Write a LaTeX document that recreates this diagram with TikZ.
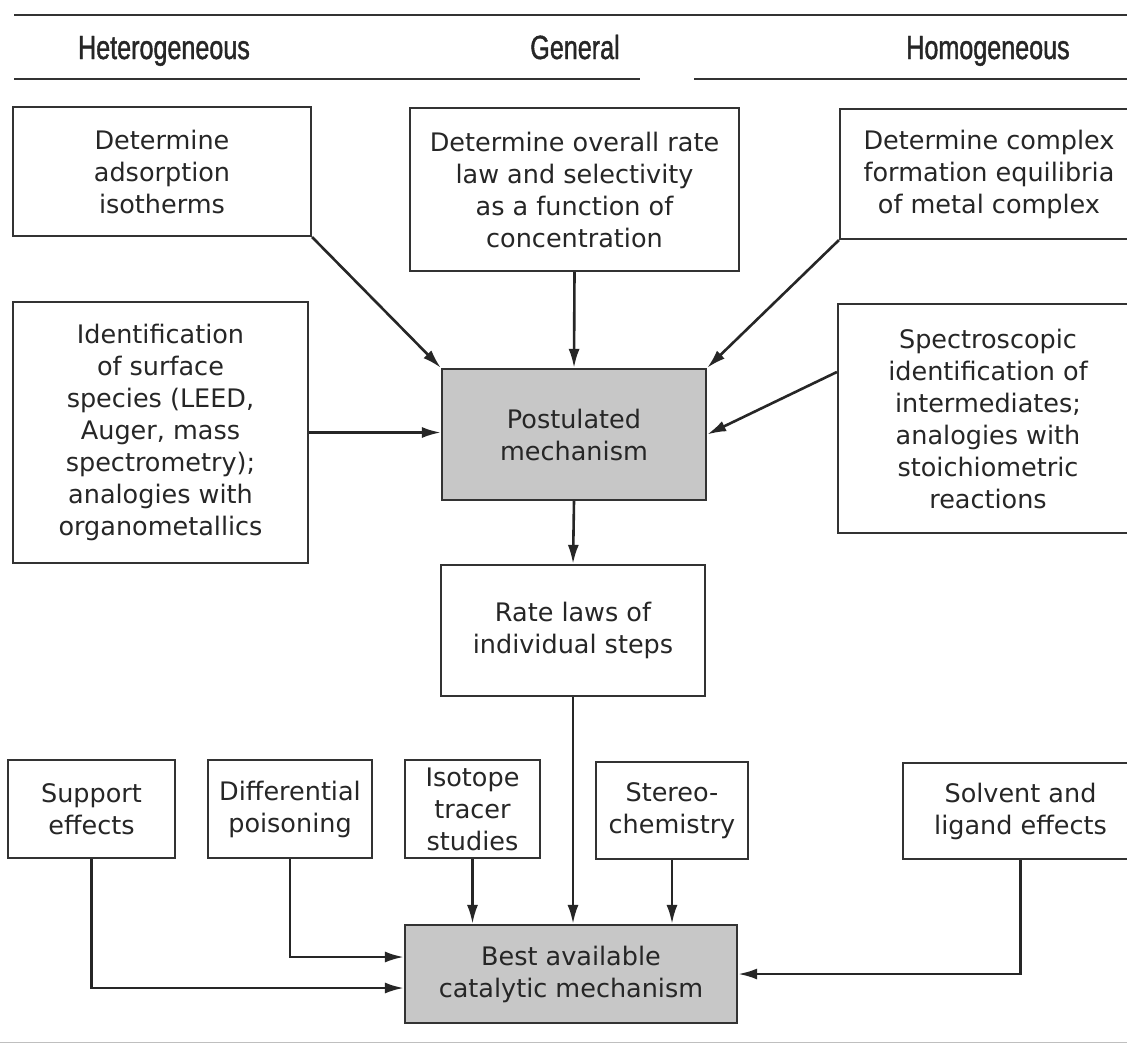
\documentclass[tikz,border=0pt]{standalone}
\usepackage{fontspec}
\setmainfont{DejaVu Sans}
\newfontfamily\headfont[FakeStretch=0.75,FakeBold=1.2]{Liberation Sans}
\usetikzlibrary{arrows.meta}
\begin{document}
\begin{tikzpicture}[x=1pt,y=-1pt,
  boxtext/.style={font=\fontsize{25.5}{32}\selectfont, text=black!85},
  stepbox/.style={draw=black!80, line width=2.2pt, align=center, inner sep=0pt, boxtext},
  shadebox/.style={stepbox, fill=black!22},
  headtext/.style={font=\headfont\fontsize{33.5}{36}\selectfont, text=black!85, anchor=base, inner sep=0pt},
  conn/.style={draw=black!85, line width=2.6pt, -{Latex[length=19pt,width=11pt]}},
  rule/.style={draw=black!80, line width=2.6pt}
]
\useasboundingbox (0,0) rectangle (1127,1045);
\fill[white] (0,0) rectangle (1127,1045);

% header rules and titles
\coordinate (t1) at (14,15);  \coordinate (t2) at (1127,15);
\coordinate (l1) at (14,79);  \coordinate (l2) at (640,79);
\coordinate (r1) at (694,79); \coordinate (r2) at (1127,79);
\draw[rule] (t1) -- (t2);
\draw[rule] (l1) -- (l2);
\draw[rule] (r1) -- (r2);
\node[headtext] (hhet) at (164,59) {Heterogeneous};
\node[headtext] (hgen) at (575,59) {General};
\node[headtext] (hhom) at (988,59) {Homogeneous};

% top row
\node[stepbox, minimum width=298, minimum height=129] (det1) at (162,171.5) {Determine\\adsorption\\isotherms};
\node[stepbox, minimum width=329, minimum height=163] (det2) at (574.5,189.5) {Determine overall rate\\law and selectivity\\as a function of\\concentration};
\node[stepbox, minimum width=298, minimum height=130] (det3) at (989,174) {Determine complex\\formation equilibria\\of metal complex};

% middle row
\node[stepbox, minimum width=295, minimum height=261] (ident) at (160.5,432.5) {Identification\\of surface\\species (LEED,\\Auger, mass\\spectrometry);\\analogies with\\organometallics};
\node[shadebox, minimum width=264, minimum height=131] (post) at (574,434.5) {Postulated\\mechanism};
\node[stepbox, minimum width=300, minimum height=229] (spec) at (988,418.5) {Spectroscopic\\identification of\\intermediates;\\analogies with\\stoichiometric\\reactions};

\node[stepbox, minimum width=264, minimum height=131] (rate) at (573,630.5) {Rate laws of\\individual steps};

% bottom row
\node[stepbox, minimum width=167, minimum height=98] (supp) at (91.5,809) {Support\\effects};
\node[stepbox, minimum width=164, minimum height=98] (diff) at (290,809) {Differential\\poisoning};
\node[stepbox, minimum width=135, minimum height=98] (iso) at (472.5,809) {Isotope\\tracer\\studies};
\node[stepbox, minimum width=152, minimum height=97] (stereo) at (672,810.5) {Stereo-\\chemistry};
\node[stepbox, minimum width=235, minimum height=96] (solv) at (1020.5,811) {Solvent and\\ligand effects};
\node[shadebox, minimum width=332, minimum height=98] (best) at (571,974) {Best available\\catalytic mechanism};

% connectors to postulated mechanism
\draw[conn] (det1.south east) -- (post.north west);
\draw[conn] (det2.south) -- (post.north);
\draw[conn] (det3.south west) -- (post.north east);
\draw[conn] (ident.east) -- (ident.east -| post.west);
\draw[conn] ([yshift=46.5pt]spec.west) -- (post.east);
\draw[conn] (post.south) -- (rate.north);

% connectors to best mechanism
\draw[conn] (rate.south) -- (rate.south |- best.north);
\draw[conn] (iso.south) -- (iso.south |- best.north);
\draw[conn] (stereo.south) -- (stereo.south |- best.north);
\draw[conn] (supp.south) |- ([yshift=-14pt]best.west);
\draw[conn] (diff.south) |- ([yshift=17pt]best.west);
\draw[conn] (solv.south) |- (best.east);

% faint bottom rule
\coordinate (b1) at (0,1042); \coordinate (b2) at (1127,1042);
\draw[draw=black!25, line width=1pt] (b1) -- (b2);
\end{tikzpicture}
\end{document}
